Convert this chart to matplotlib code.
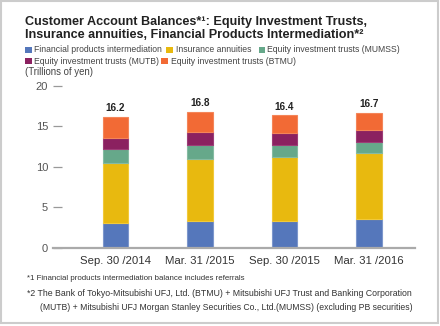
import matplotlib
matplotlib.use("Agg")
import matplotlib.pyplot as plt
from matplotlib.patches import Rectangle
import numpy as np

categories = ["Sep. 30 /2014", "Mar. 31 /2015", "Sep. 30 /2015", "Mar. 31 /2016"]
series_names = [
    "Financial products intermediation",
    "Insurance annuities",
    "Equity investment trusts (MUMSS)",
    "Equity investment trusts (MUTB)",
    "Equity investment trusts (BTMU)",
]
fpi = [3.10, 3.27, 3.27, 3.50]
insurance = [7.35, 7.67, 7.92, 8.17]
mumss = [1.70, 1.81, 1.56, 1.44]
mutb = [1.45, 1.61, 1.40, 1.48]
btmu = [2.60, 2.44, 2.25, 2.11]
totals = ["16.2", "16.8", "16.4", "16.7"]
yticks = [0, 5, 10, 15, 20]

colors = ["#5577bb", "#e8b90f", "#66a88a", "#8b2160", "#f26a35"]
edges = ["#7d97cc", "#f1c93a", "#86bba2", "#9d3d77", "#f48559"]

W, H = 440, 326
fig = plt.figure(figsize=(W / 100, H / 100), dpi=100)
fig.patch.set_facecolor("white")

def fx(px):
    return px / W

def fy(py):
    return 1 - py / H

# border
fig.add_artist(Rectangle((fx(0.5), fy(322.5)), fx(437), 322 / H, transform=fig.transFigure,
                         fill=False, edgecolor="#cccccc", linewidth=1.5))

ax = fig.add_axes([fx(53), fy(247.7), fx(362), 161.7 / H])
x = np.arange(len(categories))
bottom = np.zeros(len(categories))
series = [fpi, insurance, mumss, mutb, btmu]
for vals, c, e, name in zip(series, colors, edges, series_names):
    ax.bar(x, vals, width=0.30, bottom=bottom, color=c, edgecolor=e, linewidth=0.8, label=name)
    bottom = bottom + np.array(vals)

for xi, top, lab in zip(x, bottom, totals):
    ax.annotate(lab, (xi, top), xytext=(0, 2.5), textcoords="offset points",
                ha="center", va="bottom", fontsize=7.2, fontweight="bold",
                family=["Liberation Sans", "DejaVu Sans"], color="#222222")

ax.set_xlim(-0.736, 3.544)
ax.set_ylim(0, 20)
ax.set_yticks(yticks)
ax.set_xticks(x)
ax.set_xticklabels(categories, family=["Liberation Sans", "DejaVu Sans"], fontsize=8.2, color="#333333")
for lab in ax.get_yticklabels():
    lab.set_family(["Liberation Sans", "DejaVu Sans"])
ax.tick_params(axis="y", direction="in", length=6.5, width=0.9, color="#999999",
               labelsize=8, labelcolor="#555555", pad=3.5)
ax.tick_params(axis="x", length=0, pad=6)
for s in ["left", "right", "top"]:
    ax.spines[s].set_visible(False)
ax.spines["bottom"].set_color("#aaaaaa")
ax.spines["bottom"].set_linewidth(1.6)
ax.set_facecolor("none")

# title
tfam = ["Liberation Sans", "DejaVu Sans"]
fig.text(fx(25), fy(25), "Customer Account Balances*¹: Equity Investment Trusts,",
         fontsize=9.1, fontweight="bold", family=tfam, color="#222222", va="baseline")
fig.text(fx(25), fy(38), "Insurance annuities, Financial Products Intermediation*²",
         fontsize=9.1, fontweight="bold", family=tfam, color="#222222", va="baseline")

# legend
nfam = ["Liberation Sans Narrow", "Liberation Sans", "DejaVu Sans"]
legend_items = [
    (0, 25, 34, 50), (1, 166, 176, 50), (2, 258.7, 267, 50),
    (3, 25, 34, 61), (4, 161.3, 171, 61),
]
for idx, sqx, tx, cy in legend_items:
    fig.add_artist(Rectangle((fx(sqx), fy(cy + 3.3)), fx(6.6), 6.6 / H, transform=fig.transFigure,
                             facecolor=colors[idx], edgecolor="none"))
    fig.text(fx(tx), fy(cy), series_names[idx], fontsize=6.2, family=nfam,
             color="#444444", va="center")

fig.text(fx(25), fy(72.5), "(Trillions of yen)", fontsize=6.9, family=nfam, color="#444444", va="center")

# footnotes
fig.text(fx(27), fy(279), "*1 Financial products intermediation balance includes referrals",
         fontsize=5.7, family=nfam, color="#333333", va="center")
fig.text(fx(27), fy(293.3), "*2 The Bank of Tokyo-Mitsubishi UFJ, Ltd. (BTMU) + Mitsubishi UFJ Trust and Banking Corporation",
         fontsize=6.35, family=nfam, color="#333333", va="center")
fig.text(fx(40), fy(307.3), "(MUTB) + Mitsubishi UFJ Morgan Stanley Securities Co., Ltd.(MUMSS) (excluding PB securities)",
         fontsize=6.2, family=nfam, color="#333333", va="center")

fig.savefig("out.png", dpi=100)
